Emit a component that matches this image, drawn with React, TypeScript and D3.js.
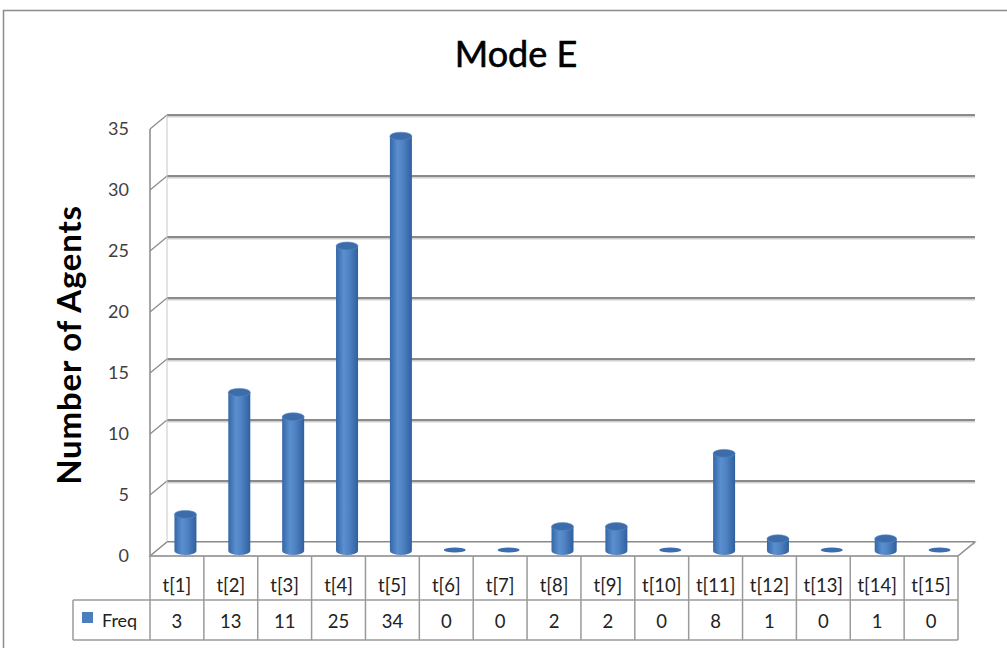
import * as d3 from 'd3';

const categories = ['t[1]', 't[2]', 't[3]', 't[4]', 't[5]', 't[6]', 't[7]', 't[8]', 't[9]', 't[10]', 't[11]', 't[12]', 't[13]', 't[14]', 't[15]'];
const freq = [3, 13, 11, 25, 34, 0, 0, 2, 2, 0, 8, 1, 0, 1, 0];
const yTicks = [0, 5, 10, 15, 20, 25, 30, 35];
const seriesName = 'Freq';
const title = 'Mode E';
const yTitle = 'Number of Agents';

const W = 1007;
const H = 648;
const font = 'Lato, "Open Sans", sans-serif';

function App() {
  // depth offset of the 3D box
  const dx = 17;
  const dy = 14;
  const x = d3.scaleBand().domain(categories).range([150, 958]).padding(0);
  const y = d3.scaleLinear().domain([0, 35]).range([542, 115]); // back wall
  const bw = x.bandwidth();
  const barW = 22;
  const ry = 4;
  const rowTop = 556;
  const rowMid = 600;
  const rowBot = 640;
  const xRight = x.range()[1];

  return (
    <svg width={W} height={H} style={{ position: 'absolute', left: 0, top: 0 }}>
      <defs>
        <linearGradient id="cyl" x1="0" x2="1" y1="0" y2="0">
          <stop offset="0" stopColor="#3567a8" />
          <stop offset="0.35" stopColor="#5a8fd0" />
          <stop offset="0.6" stopColor="#4f82c2" />
          <stop offset="1" stopColor="#2f5f9e" />
        </linearGradient>
      </defs>
      <rect x={0} y={0} width={W} height={H} fill="#fff" />
      {/* chart frame */}
      <path d={`M3.5,${H} V10.5 H${W}`} fill="none" stroke="#8c8c8c" strokeWidth={1.5} />
      <text x={516} y={67} textAnchor="middle" fontFamily={font} fontSize={36} stroke="#000" strokeWidth={0.6} fill="#000">{title}</text>

      {/* walls and gridlines */}
      {yTicks.map((t) => (
        <g key={t}>
          <line x1={150 + dx} x2={xRight + dx} y1={y(t) + 1.5} y2={y(t) + 1.5} stroke="#d0d0d0" strokeWidth={2} />
          <line x1={150 + dx} x2={xRight + dx} y1={y(t)} y2={y(t)} stroke="#8a8a8a" strokeWidth={2} />
          <line x1={150} x2={150 + dx} y1={y(t) + dy} y2={y(t)} stroke="#8a8a8a" strokeWidth={1.2} />
          <text x={129} y={y(t) + dy + 6} textAnchor="end" fontFamily={font} fontSize={18} fill="#404040">{t}</text>
        </g>
      ))}
      <line x1={150} x2={150} y1={y(35) + dy} y2={y(0) + dy} stroke="#8a8a8a" strokeWidth={1.5} />
      <line x1={150 + dx} x2={150 + dx} y1={y(35)} y2={y(0)} stroke="#c8c8c8" strokeWidth={1} />
      {/* floor */}
      <path d={`M150,${y(0) + dy} L${150 + dx},${y(0)} H${xRight + dx} L${xRight},${y(0) + dy} Z`} fill="#fff" stroke="#8a8a8a" strokeWidth={1.2} />

      {/* cylinders */}
      {categories.map((c, i) => {
        const v = freq[i];
        const cx = (x(c) as number) + bw / 2 + dx / 2;
        const base = y(0) + dy / 2 + 2;
        const top = y(v) + dy / 2 + 2;
        if (v === 0) {
          return <ellipse key={c} cx={cx} cy={base - 1} rx={barW / 2} ry={2.5} fill="#3a6cae" />;
        }
        return (
          <g key={c}>
            <path
              d={`M${cx - barW / 2},${top} V${base} A${barW / 2},${ry} 0 0 0 ${cx + barW / 2},${base} V${top} Z`}
              fill="url(#cyl)"
            />
            <ellipse cx={cx} cy={top} rx={barW / 2} ry={ry} fill="#3d6cab" stroke="#5a8bc8" strokeWidth={0.6} />
          </g>
        );
      })}

      {/* y axis title */}
      <text transform={`translate(81,345) rotate(-90)`} textAnchor="middle" fontFamily={font} fontWeight="bold" fontSize={33} letterSpacing={0.8} fill="#000">{yTitle}</text>

      {/* data table */}
      <g stroke="#9a9a9a" strokeWidth={1.5} fill="none">
        <line x1={150} x2={xRight} y1={rowTop} y2={rowTop} />
        <line x1={73} x2={xRight} y1={rowMid} y2={rowMid} />
        <line x1={73} x2={xRight} y1={rowBot} y2={rowBot} />
        <line x1={73} x2={73} y1={rowMid} y2={rowBot} />
        <line x1={xRight} x2={xRight + dx} y1={rowTop} y2={rowTop - dy} />
        {[...categories.map((c) => x(c) as number), xRight].map((px, i) => (
          <line key={i} x1={px} x2={px} y1={rowTop} y2={rowBot} />
        ))}
      </g>
      {categories.map((c, i) => (
        <g key={c}>
          <text x={(x(c) as number) + bw / 2} y={592} textAnchor="middle" fontFamily={font} fontSize={18.5} fill="#222">{c}</text>
          <text x={(x(c) as number) + bw / 2} y={628} textAnchor="middle" fontFamily={font} fontSize={18.5} fill="#222">{freq[i]}</text>
        </g>
      ))}
      <rect x={82} y={612} width={11} height={11} fill="#4a7ebf" />
      <text x={102} y={627} fontFamily={font} fontSize={18} fill="#222">{seriesName}</text>
    </svg>
  );
}

export default App;
